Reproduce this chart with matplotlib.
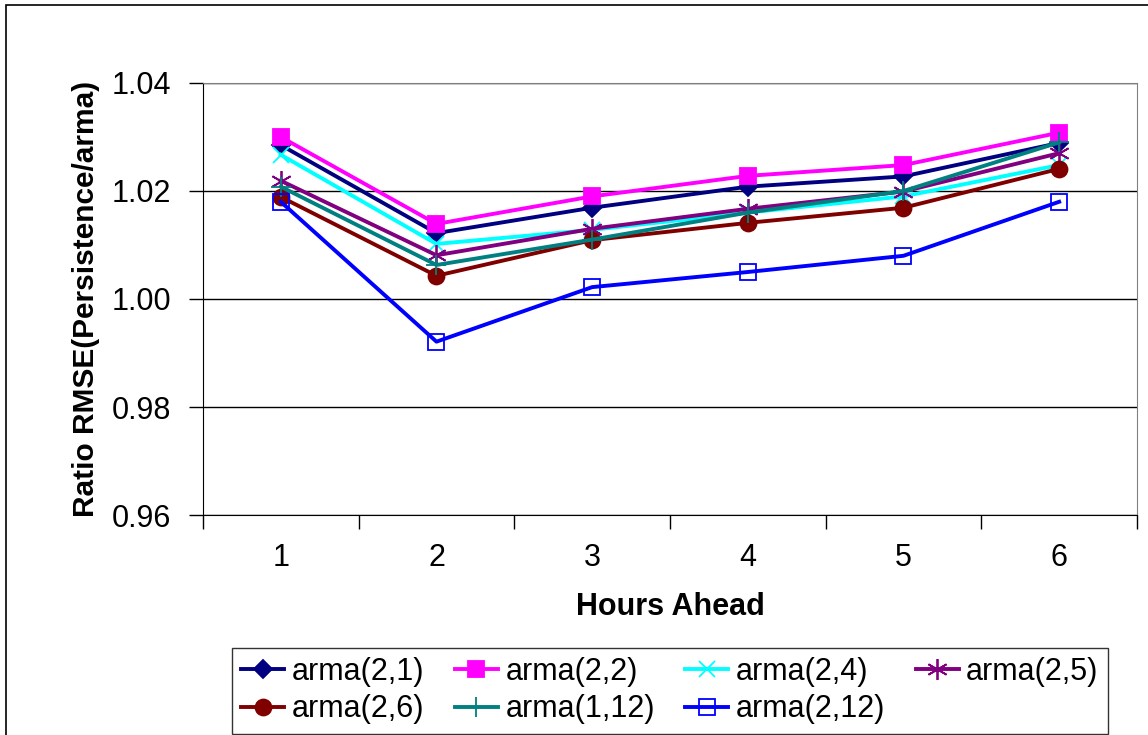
import numpy as np
import matplotlib.pyplot as plt
from matplotlib.patches import Rectangle

plt.rcParams['font.family'] = ['Liberation Sans', 'DejaVu Sans']

hours = [1, 2, 3, 4, 5, 6]

arma_2_1 = [1.0285, 1.0122, 1.0169, 1.0208, 1.0227, 1.0289]
arma_2_2 = [1.0300, 1.0139, 1.0190, 1.0228, 1.0248, 1.0308]
arma_2_4 = [1.0267, 1.0102, 1.0128, 1.0160, 1.0190, 1.0248]
arma_2_5 = [1.0219, 1.0081, 1.0130, 1.0167, 1.0199, 1.0270]
arma_2_6 = [1.0189, 1.0043, 1.0109, 1.0141, 1.0169, 1.0241]
arma_1_12 = [1.0208, 1.0063, 1.0110, 1.0160, 1.0200, 1.0290]
arma_2_12 = [1.0180, 0.9921, 1.0022, 1.0050, 1.0080, 1.0180]

series = [
    ('arma(2,1)', arma_2_1, '#000080', 'D', 9.5, True),
    ('arma(2,2)', arma_2_2, '#FF00FF', 's', 11.5, True),
    ('arma(2,4)', arma_2_4, '#00FFFF', 'x', 11, True),
    ('arma(2,5)', arma_2_5, '#800080', (6, 2, 0), 15, True),
    ('arma(2,6)', arma_2_6, '#800000', 'o', 11.5, True),
    ('arma(1,12)', arma_1_12, '#008080', '+', 15, True),
    ('arma(2,12)', arma_2_12, '#0000FF', 's', 11.5, False),
]

fig = plt.figure(figsize=(11.48, 7.35), dpi=100)
ax = fig.add_axes([0.1768, 0.2993, 0.8136, 0.5878])

handles = {}
for name, vals, col, mk, ms, filled in series:
    h, = ax.plot(hours, vals, color=col, lw=2.8, marker=mk, markersize=ms,
                 markerfacecolor=col if filled else 'none',
                 markeredgecolor=col, markeredgewidth=1.3,
                 label=name, zorder=3)
    handles[name] = h

ax.set_xlim(0.5, 6.5)
ax.set_ylim(0.96, 1.04)
ax.set_yticks([0.96, 0.98, 1.00, 1.02, 1.04])
ax.set_yticklabels(['0.96', '0.98', '1.00', '1.02', '1.04'])
ax.set_xticks(hours)
ax.set_xticks(np.arange(0.5, 7, 1), minor=True)
ax.tick_params(axis='x', which='major', length=0, pad=20, labelsize=22)
ax.tick_params(axis='x', which='minor', length=10, width=1, direction='out')
ax.tick_params(axis='y', which='major', length=10, width=1, direction='out', pad=13, labelsize=22)
ax.grid(axis='y', color='black', lw=1)
ax.set_axisbelow(True)
for s in ['top', 'right']:
    ax.spines[s].set_color('#808080')
for s in ['left', 'bottom']:
    ax.spines[s].set_color('black')

ax.set_xlabel('Hours Ahead', fontsize=22, fontweight='bold', labelpad=14)
ax.set_ylabel('Ratio RMSE(Persistence/arma)', fontsize=21.5, fontweight='bold', labelpad=8)

order = ['arma(2,1)', 'arma(2,6)', 'arma(2,2)', 'arma(1,12)',
         'arma(2,4)', 'arma(2,12)', 'arma(2,5)']
leg = fig.legend([handles[n] for n in order], order, ncol=4, loc='center',
                 bbox_to_anchor=(0.5836, 0.0605), fontsize=22, frameon=True,
                 fancybox=False, edgecolor='black', handlelength=1.4,
                 handletextpad=0.25, columnspacing=1.0, labelspacing=0.25,
                 borderpad=0.3, borderaxespad=0)
leg.get_frame().set_linewidth(1.0)

fig.add_artist(Rectangle((6 / 1148, -0.1), 1.2, 1.1 - 5 / 735, transform=fig.transFigure,
                         fill=False, edgecolor='black', lw=1.2, clip_on=False))

fig.savefig('out.png', dpi=100, facecolor='white')
